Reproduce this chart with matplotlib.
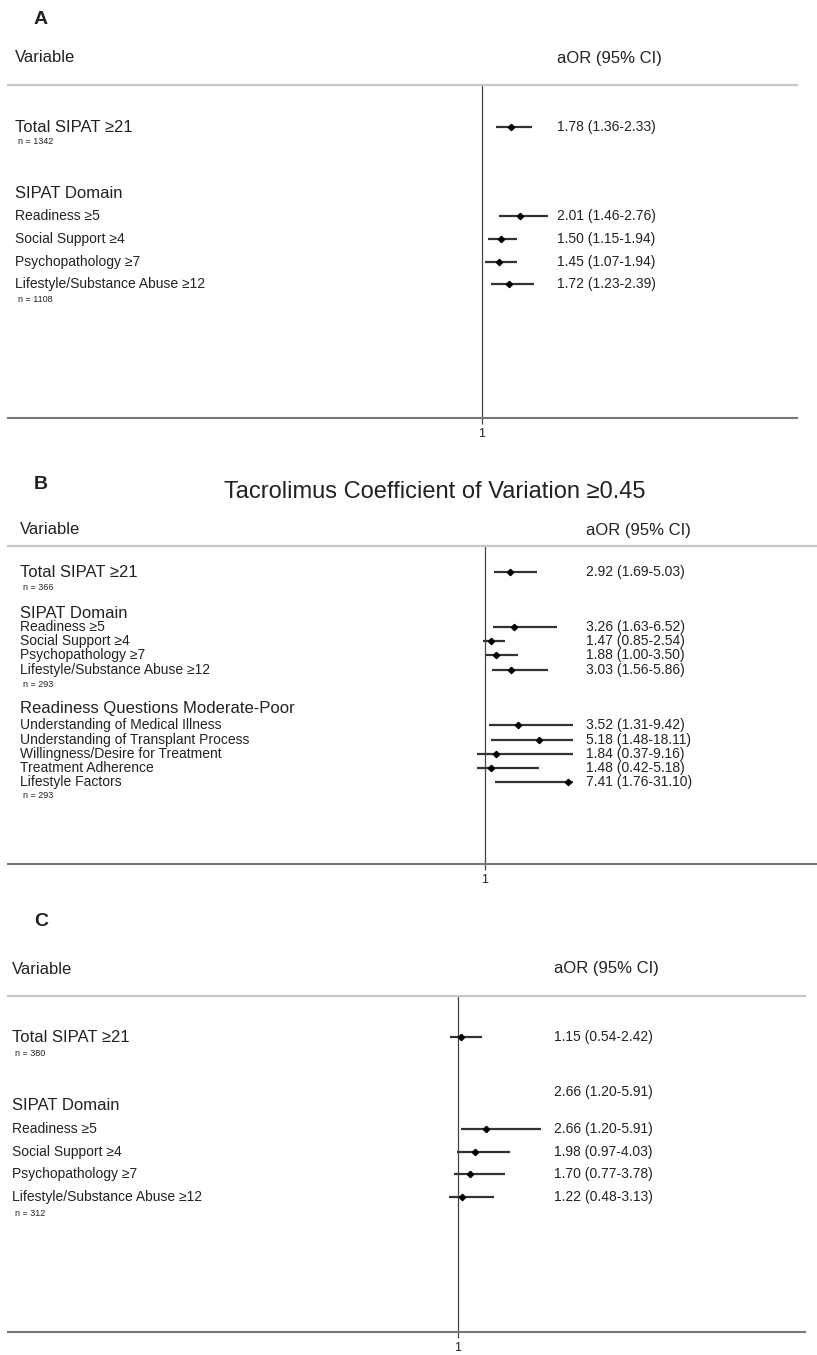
import matplotlib.pyplot as plt
from matplotlib.patches import Rectangle

plt.rcParams['font.family'] = ['Liberation Sans', 'DejaVu Sans']

# ---- data -------------------------------------------------------------
# panel A
a_labels = ["Total SIPAT ≥21", "Readiness ≥5", "Social Support ≥4",
            "Psychopathology ≥7", "Lifestyle/Substance Abuse ≥12"]
a_aor = [1.78, 2.01, 1.50, 1.45, 1.72]
a_lo = [1.36, 1.46, 1.15, 1.07, 1.23]
a_hi = [2.33, 2.76, 1.94, 1.94, 2.39]
a_groups = ["SIPAT Domain"]
a_n = ["n = 1342", "n = 1108"]

# panel B
b_title = "Tacrolimus Coefficient of Variation ≥0.45"
b_labels = ["Total SIPAT ≥21", "Readiness ≥5", "Social Support ≥4",
            "Psychopathology ≥7", "Lifestyle/Substance Abuse ≥12",
            "Understanding of Medical Illness", "Understanding of Transplant Process",
            "Willingness/Desire for Treatment", "Treatment Adherence", "Lifestyle Factors"]
b_aor = [2.92, 3.26, 1.47, 1.88, 3.03, 3.52, 5.18, 1.84, 1.48, 7.41]
b_lo = [1.69, 1.63, 0.85, 1.00, 1.56, 1.31, 1.48, 0.37, 0.42, 1.76]
b_hi = [5.03, 6.52, 2.54, 3.50, 5.86, 9.42, 18.11, 9.16, 5.18, 31.10]
b_groups = ["SIPAT Domain", "Readiness Questions Moderate-Poor"]
b_n = ["n = 366", "n = 293", "n = 293"]

# panel C
c_labels = ["Total SIPAT ≥21", "Readiness ≥5", "Social Support ≥4",
            "Psychopathology ≥7", "Lifestyle/Substance Abuse ≥12"]
c_aor = [1.15, 2.66, 1.98, 1.70, 1.22]
c_lo = [0.54, 1.20, 0.97, 0.77, 0.48]
c_hi = [2.42, 5.91, 4.03, 3.78, 3.13]
c_groups = ["SIPAT Domain"]
c_n = ["n = 380", "n = 312"]
c_extra = "2.66 (1.20-5.91)"

# ---- layout (pixels from top-left) ------------------------------------
W, H = 817, 1355
fig = plt.figure(figsize=(W / 100, H / 100), dpi=100)
TXT = '#222222'


def fx(x):
    return x / W


def fy(y):
    return 1 - y / H


def put(x, y, s, size, **kw):
    fig.text(fx(x), fy(y), s, fontsize=size, color=kw.pop('color', TXT),
             va=kw.pop('va', 'center'), ha=kw.pop('ha', 'left'), **kw)


def panel(letter, box, ref_x, px_unit, label_x, value_x, header_y,
          labels, aor, lo, hi, rows, groups, group_rows, ns, n_rows,
          clip_px=None, row_size=10):
    x0, x1, ytop, ybot = box
    ax = fig.add_axes([fx(x0), fy(ybot), (x1 - x0) / W, (ybot - ytop) / H])
    xmin = 1 - (ref_x - x0) / px_unit
    ax.set_xlim(xmin, 1 + (x1 - ref_x) / px_unit)
    ax.set_ylim(ybot, ytop)
    ax.set_facecolor('none')

    ax.axvline(1, color='#444444', lw=0.9, zorder=1)
    segs = ax.hlines(rows, lo, hi, color='#333333', lw=1.6, zorder=2)
    if clip_px is not None:
        # long intervals run off the right edge of the plotting area
        xclip = 1 + (clip_px - ref_x) / px_unit
        rect = Rectangle((xmin, ytop), xclip - xmin, ybot - ytop,
                         transform=ax.transData)
        segs.set_clip_path(rect)
    ax.plot(aor, rows, 'D', color='black', ms=3.2, zorder=3)

    for side in ['left', 'right']:
        ax.spines[side].set_visible(False)
    ax.spines['top'].set_color('#c8c8c8')
    ax.spines['top'].set_linewidth(1.6)
    ax.spines['bottom'].set_color('#777777')
    ax.spines['bottom'].set_linewidth(1.5)
    ax.set_yticks([])
    ax.set_xticks([1])
    ax.set_xticklabels(['1'])
    ax.tick_params(axis='x', length=4.5, width=0.9, color='#444444',
                   pad=2.5, labelsize=9, labelcolor=TXT)

    put(34, letter[1], letter[0], 14, fontweight='bold')
    put(label_x, header_y, "Variable", 12)
    put(value_x, header_y, "aOR (95% CI)", 12)

    for i, (s, y) in enumerate(zip(labels, rows)):
        put(label_x, y, s, 12 if i == 0 else row_size)
        put(value_x, y, f"{aor[i]:.2f} ({lo[i]:.2f}-{hi[i]:.2f})", 10)
    for s, y in zip(groups, group_rows):
        put(label_x, y, s, 12)
    for s, y in zip(ns, n_rows):
        put(label_x + 3, y, s, 6.5)
    return ax


panel(('A', 20), (8, 797, 85, 418), 482, 37.5, 15, 557, 58,
      a_labels, a_aor, a_lo, a_hi, [127, 216, 239, 262, 284],
      a_groups, [193], a_n, [142, 300])

panel(('B', 484), (8, 817, 546, 864), 485, 13, 20, 586, 530,
      b_labels, b_aor, b_lo, b_hi,
      [572, 627, 641, 655, 670, 725, 740, 754, 768, 782],
      b_groups, [613, 709], b_n, [587, 684, 795], clip_px=573)
put(435, 492, b_title, 17, ha='center')

panel(('C', 922), (8, 805, 996, 1332), 458, 17, 12, 554, 969,
      c_labels, c_aor, c_lo, c_hi, [1037, 1129, 1152, 1174, 1197],
      c_groups, [1106], c_n, [1054, 1213])
put(554, 1092, c_extra, 10)

fig.savefig('out.png', dpi=100)
